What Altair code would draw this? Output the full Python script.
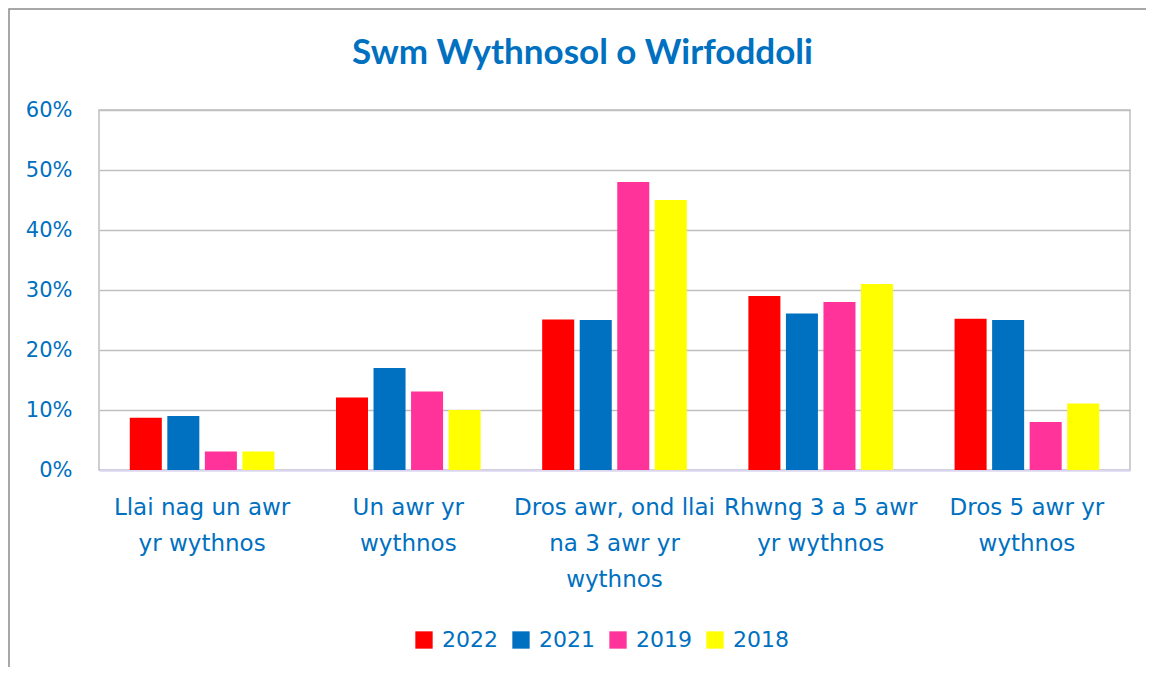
import altair as alt
import pandas as pd

categories = [
    "Llai nag un awr yr wythnos",
    "Un awr yr wythnos",
    "Dros awr, ond llai na 3 awr yr wythnos",
    "Rhwng 3 a 5 awr yr wythnos",
    "Dros 5 awr yr wythnos",
]
label_lines = [
    ["Llai nag un awr", "yr wythnos"],
    ["Un awr yr", "wythnos"],
    ["Dros awr, ond llai", "na 3 awr yr", "wythnos"],
    ["Rhwng 3 a 5 awr", "yr wythnos"],
    ["Dros 5 awr yr", "wythnos"],
]
years = ["2022", "2021", "2019", "2018"]
colors = ["#FF0000", "#0070C0", "#FF3399", "#FFFF00"]

v2022 = [0.087, 0.121, 0.251, 0.290, 0.252]
v2021 = [0.090, 0.170, 0.250, 0.261, 0.250]
v2019 = [0.031, 0.131, 0.480, 0.280, 0.080]
v2018 = [0.031, 0.100, 0.450, 0.310, 0.111]

series = {"2022": v2022, "2021": v2021, "2019": v2019, "2018": v2018}
rows = []
for y in years:
    for c, v in zip(categories, series[y]):
        rows.append({"cat": c, "year": y, "value": v})
df = pd.DataFrame(rows)

# label expression for multi-line labels
expr = "''"
for c, lines in reversed(list(zip(categories, label_lines))):
    arr = "[" + ",".join("'" + l + "'" for l in lines) + "]"
    expr = f"datum.value == '{c}' ? {arr} : ({expr})"

BLUE = "#0070C0"
FONT = "DejaVu Sans"

bars = alt.Chart(df).mark_bar().encode(
    x=alt.X("cat:N", sort=categories, title=None,
            scale=alt.Scale(paddingInner=0, paddingOuter=0),
            axis=alt.Axis(labelExpr=expr, labelAngle=0, labelFont=FONT,
                          labelFontSize=23, labelColor=BLUE, labelLineHeight=36,
                          labelBaseline="top", labelPadding=26, labelLimit=400,
                          ticks=False, domainColor="#D9D5F2", domainWidth=2,
                          labelOverlap=False)),
    xOffset=alt.XOffset("year:N", sort=years,
                        scale=alt.Scale(paddingInner=0.147, paddingOuter=0.82)),
    y=alt.Y("value:Q", title=None,
            scale=alt.Scale(domain=[0, 0.6], nice=False),
            axis=alt.Axis(format=".0%", values=[0, 0.1, 0.2, 0.3, 0.4, 0.5, 0.6],
                          labelFont=FONT, labelFontSize=21, labelColor=BLUE,
                          labelPadding=27, ticks=False, domain=False,
                          gridColor="#BFBFBF", gridWidth=1.5)),
    color=alt.Color("year:N", sort=years,
                    scale=alt.Scale(domain=years, range=colors),
                    legend=alt.Legend(title=None, orient="none", direction="horizontal",
                                      legendX=314, legendY=519,
                                      symbolType="square", symbolSize=300,
                                      symbolStrokeWidth=0, labelFont=FONT,
                                      labelFontSize=22, labelColor=BLUE,
                                      labelOffset=7, columnPadding=12)),
)

frame = alt.Chart(pd.DataFrame({"k": [0]})).mark_rect(
    fill=None, stroke="#8C8C8C", strokeWidth=1.5
).encode(
    x=alt.value(-90), x2=alt.value(1070),
    y=alt.value(-101), y2=alt.value(620),
)

chart = alt.layer(frame, bars).properties(
    width=1031, height=360,
    autosize=alt.AutoSizeParams(type="none"),
    padding={"left": 91, "top": 102, "right": 16, "bottom": 197},
    title=alt.Title("Swm Wythnosol o Wirfoddoli", font="Lato", fontSize=35,
                    fontWeight="bold", color=BLUE, anchor="middle", frame="group",
                    dx=-32, baseline="alphabetic", offset=0, dy=91),
).configure_view(stroke="#BFBFBF", strokeWidth=1.5)

chart.save("out.html", embed_options={"renderer": "svg", "actions": False})
